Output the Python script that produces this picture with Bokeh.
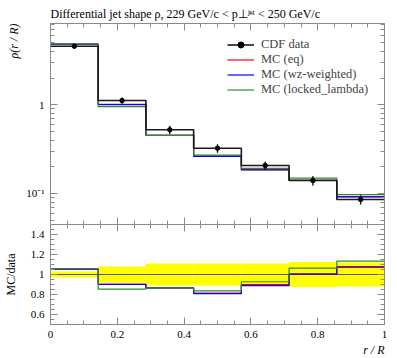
import numpy as np
from bokeh.plotting import figure
from bokeh.models import (FixedTicker, LinearAxis, LogAxis, Range1d, Legend,
                          LegendItem, CustomJSTickFormatter, Title)
from bokeh.layouts import column
from bokeh.embed import file_html
from bokeh.resources import INLINE

# ---------------- data ----------------
bin_edges = [0, 1/7, 2/7, 3/7, 4/7, 5/7, 6/7, 1]
data_vals = [4.58, 1.118, 0.523, 0.324, 0.207, 0.140, 0.0855]
data_rel_err = [0.03, 0.08, 0.11, 0.11, 0.11, 0.125, 0.12]
mc_eq = [4.82, 1.012, 0.453, 0.264, 0.186, 0.1407, 0.0922]
mc_wz = [4.83, 1.006, 0.453, 0.262, 0.184, 0.1404, 0.0917]
mc_locked = [4.85, 0.954, 0.453, 0.271, 0.192, 0.149, 0.097]

x_major = [0, 0.2, 0.4, 0.6, 0.8, 1.0]
x_minor = [round(0.05 * i, 2) for i in range(21)]
y_major = [0.1, 1]
y_minor = [0.05, 0.06, 0.07, 0.08, 0.09, 0.2, 0.3, 0.4, 0.5, 0.6, 0.7, 0.8, 0.9,
           2, 3, 4, 5, 6, 7, 8]
r_major = [0.6, 0.8, 1.0, 1.2, 1.4]
r_minor = [round(0.5 + 0.05 * i, 2) for i in range(21)]

FONT = "Liberation Serif"
AX = "#8a8a8a"

edges = np.array(bin_edges)
centers = 0.5 * (edges[:-1] + edges[1:])
dv = np.array(data_vals)
rel = np.array(data_rel_err)


def step_y(vals):
    v = list(vals)
    return v + [v[-1]]


def style(ax, labels=True):
    ax.axis_line_color = AX
    ax.major_tick_line_color = AX
    ax.minor_tick_line_color = AX
    ax.major_tick_in = 7
    ax.major_tick_out = 0
    ax.minor_tick_in = 4
    ax.minor_tick_out = 0
    ax.major_label_text_font = FONT
    ax.major_label_text_font_size = "11px"
    ax.major_label_text_color = "black"
    ax.major_label_standoff = 6
    if not labels:
        ax.formatter = CustomJSTickFormatter(code="return '';")
        ax.major_label_text_font_size = "1px"
        ax.major_label_standoff = 0


# ---------------- main panel ----------------
p = figure(frame_width=334, frame_height=201, x_range=Range1d(0, 1),
           y_range=Range1d(0.0447, 8.26), y_axis_type="log",
           output_backend="svg", toolbar_location=None,
           min_border_left=49, min_border_right=12, min_border_top=23,
           min_border_bottom=0)
p.grid.visible = False
p.outline_line_color = None
p.background_fill_color = "white"

p.title = Title(text="Differential jet shape ρ, 229 GeV/c < p⊥ʲᵉᵗ < 250 GeV/c",
                align="left", text_font=FONT, text_font_size="12px",
                text_font_style="normal", text_color="black", standoff=5)

xt = FixedTicker(ticks=x_major, minor_ticks=x_minor)
yt = FixedTicker(ticks=y_major, minor_ticks=y_minor)

p.xaxis.ticker = xt
style(p.xaxis[0], labels=False)
p.yaxis.ticker = yt
p.yaxis.formatter = CustomJSTickFormatter(code="""
if (Math.abs(tick - 1) < 1e-9) { return "1"; }
if (Math.abs(tick - 0.1) < 1e-9) { return "10\u207B\u00B9"; }
return "";
""")
style(p.yaxis[0])

top_ax = LinearAxis(ticker=xt)
style(top_ax, labels=False)
p.add_layout(top_ax, "above")
right_ax = LogAxis(ticker=yt)
style(right_ax, labels=False)
p.add_layout(right_ax, "right")

p.add_layout(Title(text="ρ(r / R)", align="right", text_font=FONT,
                   text_font_size="12px", text_font_style="italic",
                   text_color="black", standoff=6), "left")

r_eq = p.step(edges, step_y(mc_eq), mode="after", line_color="#ff0000", line_width=1.2)
r_wz = p.step(edges, step_y(mc_wz), mode="after", line_color="#0000ff", line_width=1.2)
r_lk = p.step(edges, step_y(mc_locked), mode="after", line_color="#2e8b2e", line_width=1.2)
r_dstep = p.step(edges, step_y(data_vals), mode="after", line_color="#1a1a1a", line_width=1.6)
p.segment(centers, dv * (1 - rel), centers, dv * (1 + rel), line_color="black", line_width=1.2)
r_dpt = p.scatter(centers, dv, size=4.5, color="black")

legend = Legend(items=[
    LegendItem(label="CDF data", renderers=[r_dstep, r_dpt]),
    LegendItem(label="MC (eq)", renderers=[r_eq]),
    LegendItem(label="MC (wz-weighted)", renderers=[r_wz]),
    LegendItem(label="MC (locked_lambda)", renderers=[r_lk]),
], location=(177, 127))
legend.label_text_font = FONT
legend.label_text_font_size = "12.5px"
legend.label_height = 15
legend.glyph_height = 15
legend.glyph_width = 27
legend.label_standoff = 7
legend.spacing = 0
legend.padding = 0
legend.margin = 0
legend.border_line_color = None
legend.background_fill_alpha = 0
p.add_layout(legend)

# ---------------- ratio panel ----------------
q = figure(frame_width=334, frame_height=100, x_range=p.x_range,
           y_range=Range1d(0.5, 1.5), output_backend="svg", toolbar_location=None,
           min_border_left=49, min_border_right=12, min_border_top=0,
           min_border_bottom=32)
q.grid.visible = False
q.outline_line_color = None

rt = FixedTicker(ticks=r_major, minor_ticks=r_minor)
q.xaxis.ticker = xt
style(q.xaxis[0])
q.yaxis.ticker = rt
style(q.yaxis[0])
q.yaxis.axis_label = "MC/data"
q.yaxis.axis_label_text_font = FONT
q.yaxis.axis_label_text_font_size = "12px"
q.yaxis.axis_label_text_font_style = "normal"
q.yaxis.axis_label_text_color = "black"
q.yaxis.axis_label_standoff = 10
q_top = LinearAxis(ticker=xt)
style(q_top, labels=False)
q.add_layout(q_top, "above")
q_right = LinearAxis(ticker=rt)
style(q_right, labels=False)
q.add_layout(q_right, "right")

q.add_layout(Title(text="r / R", align="right", text_font=FONT,
                   text_font_size="12px", text_font_style="italic",
                   text_color="black", standoff=0), "below")

q.quad(left=edges[:-1], right=edges[1:], bottom=1 - rel, top=1 + rel,
       fill_color="#ffff00", line_color=None)
q.step(edges, step_y(dv / dv), mode="after", line_color="#444444", line_width=0.9)
q.step(edges, step_y(np.array(mc_eq) / dv), mode="after", line_color="#ff0000", line_width=1.2)
q.step(edges, step_y(np.array(mc_wz) / dv), mode="after", line_color="#0000ff", line_width=1.2)
q.step(edges, step_y(np.array(mc_locked) / dv), mode="after", line_color="#2e8b2e", line_width=1.2)

layout = column(p, q, spacing=0)
open("out.html", "w").write(file_html(layout, INLINE))
